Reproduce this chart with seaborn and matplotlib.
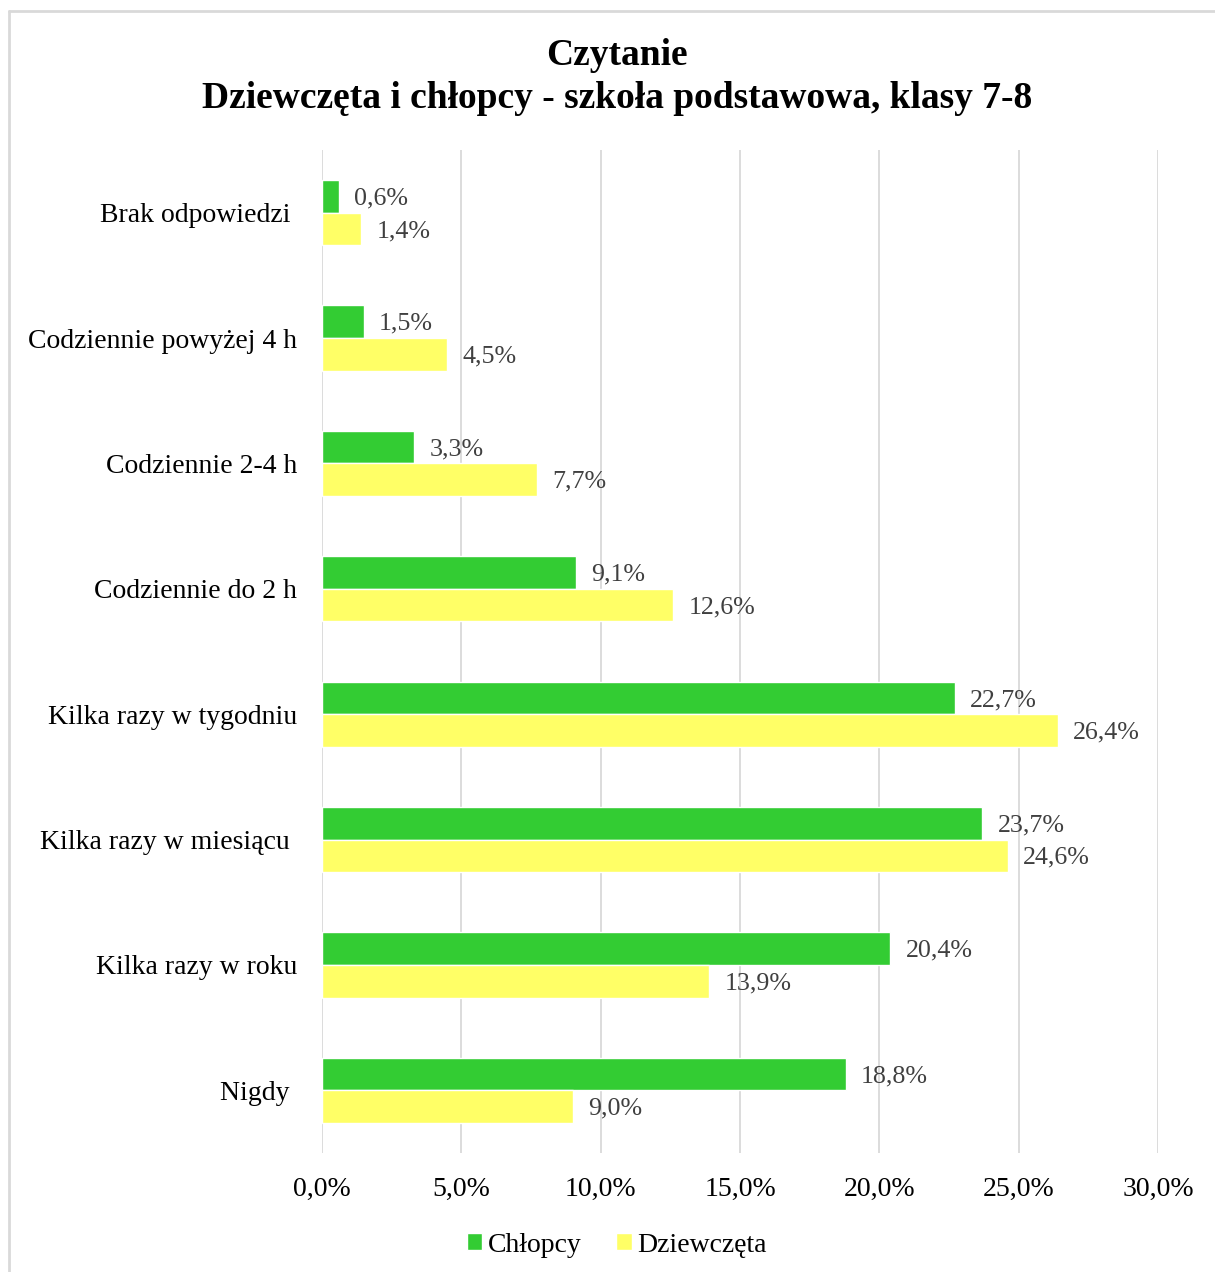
import pandas as pd
import matplotlib.pyplot as plt
import seaborn as sns
from matplotlib.lines import Line2D
from matplotlib.ticker import FuncFormatter

sns.set_theme(style="white")
plt.rcParams['font.family'] = ['Liberation Serif', 'DejaVu Serif']
plt.rcParams['text.color'] = 'black'

# --- Daten ---
kategorie = ["Brak odpowiedzi ", "Codziennie powyżej 4 h", "Codziennie 2-4 h",
             "Codziennie do 2 h", "Kilka razy w tygodniu", "Kilka razy w miesiącu ",
             "Kilka razy w roku", "Nigdy "]
chlopcy = [0.6, 1.5, 3.3, 9.1, 22.7, 23.7, 20.4, 18.8]
dziewczeta = [1.4, 4.5, 7.7, 12.6, 26.4, 24.6, 13.9, 9.0]
x_ticks = [0, 5, 10, 15, 20, 25, 30]

df = pd.DataFrame({
    "kategoria": kategorie * 2,
    "wartosc": chlopcy + dziewczeta,
    "grupa": ["Chłopcy"] * len(kategorie) + ["Dziewczęta"] * len(kategorie),
})

fig = plt.figure(figsize=(12.15, 12.72), dpi=100)
ax = fig.add_axes([322 / 1215, 1 - 1153 / 1272, (1158 - 322) / 1215, (1153 - 150) / 1272])

sns.barplot(data=df, y="kategoria", x="wartosc", hue="grupa", orient="h",
            order=kategorie, hue_order=["Chłopcy", "Dziewczęta"],
            palette=["#33CC33", "#FFFF66"], width=0.52, gap=0,
            saturation=1, errorbar=None, ax=ax)

for cont in ax.containers:
    txts = ax.bar_label(cont, labels=[f"{v:.1f}%".replace(".", ",") for v in cont.datavalues],
                        padding=11, fontsize=18.7, color="#404040")
    for t in txts:
        t.set_y(t.get_position()[1])
        t.xyann = (t.xyann[0], -1.5)

ax.set_xlim(0, 30)
ax.set_ylim(7.5, -0.5)
ax.set_xticks(x_ticks)
ax.xaxis.set_major_formatter(FuncFormatter(lambda v, p: f"{v:.1f}%".replace(".", ",")))
ax.grid(axis="x", color="#D9D9D9", linewidth=1.3)
ax.set_axisbelow(True)
for s in ax.spines.values():
    s.set_visible(False)
ax.tick_params(axis="x", length=0, pad=17, labelsize=20, labelcolor="black")
ax.tick_params(axis="y", length=0, pad=18, labelsize=20, labelcolor="black")
ax.set_xlabel("")
ax.set_ylabel("")

fig.suptitle("Czytanie\nDziewczęta i chłopcy - szkoła podstawowa, klasy 7-8",
             x=617 / 1215, y=1 - 38 / 1272, va="top", fontsize=27, color="black",
             fontweight="bold", linespacing=1.3)

handles, labels = ax.get_legend_handles_labels()
ax.get_legend().remove()
fig.legend(handles, labels, loc="center", bbox_to_anchor=(617 / 1215, 1 - 1245 / 1272),
           ncol=2, frameon=False, fontsize=20, handlelength=0.55, handleheight=0.55,
           handletextpad=0.2, columnspacing=1.25)

# Rahmen
fig.add_artist(Line2D([9 / 1215, 9 / 1215], [0, 1 - 11 / 1272], color="#D9D9D9",
                      linewidth=2, transform=fig.transFigure))
fig.add_artist(Line2D([9 / 1215, 1], [1 - 11 / 1272, 1 - 11 / 1272], color="#D9D9D9",
                      linewidth=2, transform=fig.transFigure))

fig.savefig("out.png", dpi=100)
